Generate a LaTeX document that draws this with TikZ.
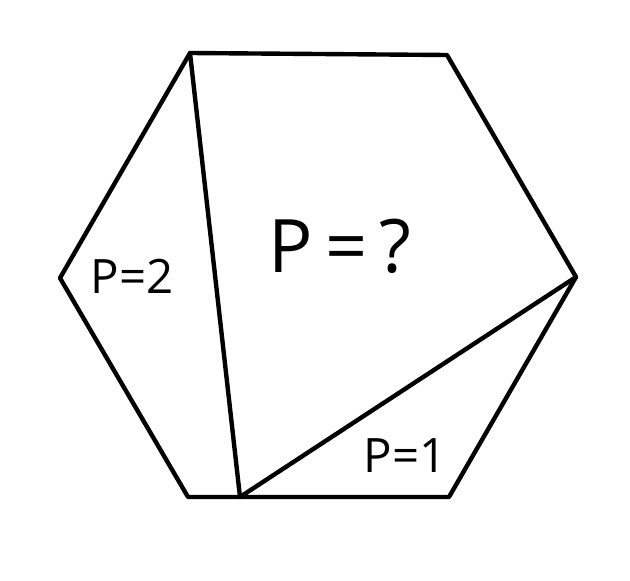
\documentclass[tikz,border=0pt]{standalone}
\usepackage{fontspec}
\setmainfont{Open Sans}
\usetikzlibrary{positioning}
\begin{document}
\begin{tikzpicture}[x=0.02cm, y=-0.02cm,
  edge/.style={line width=2.5pt, line join=round, line cap=round},
  area/.style={font=\fontsize{27}{29}\selectfont, inner sep=0pt}
]
  \useasboundingbox (0,0) rectangle (630,581);
  % Hexagon corners
  \coordinate (tl) at (190,53);
  \coordinate (tr) at (447,55);
  \coordinate (r) at (576,277);
  \coordinate (br) at (449,497);
  \coordinate (bl) at (188,497);
  \coordinate (l) at (60,278);
  \coordinate (m) at (240,497);
  % Outline
  \draw[edge] (tl) -- (tr) -- (r) -- (br) -- (bl) -- (l) -- cycle;
  % Diagonals
  \draw[edge] (tl) -- (m);
  \draw[edge] (m) -- (r);
  % Labels
  \node[area] (pleft) at (132,276) {P=2};
  \node[area, font=\fontsize{42}{44}\selectfont] (pmid) at (340,246) {P\,=\,?};
  \node[area] (pright) at (405,456) {P=1};
\end{tikzpicture}
\end{document}
